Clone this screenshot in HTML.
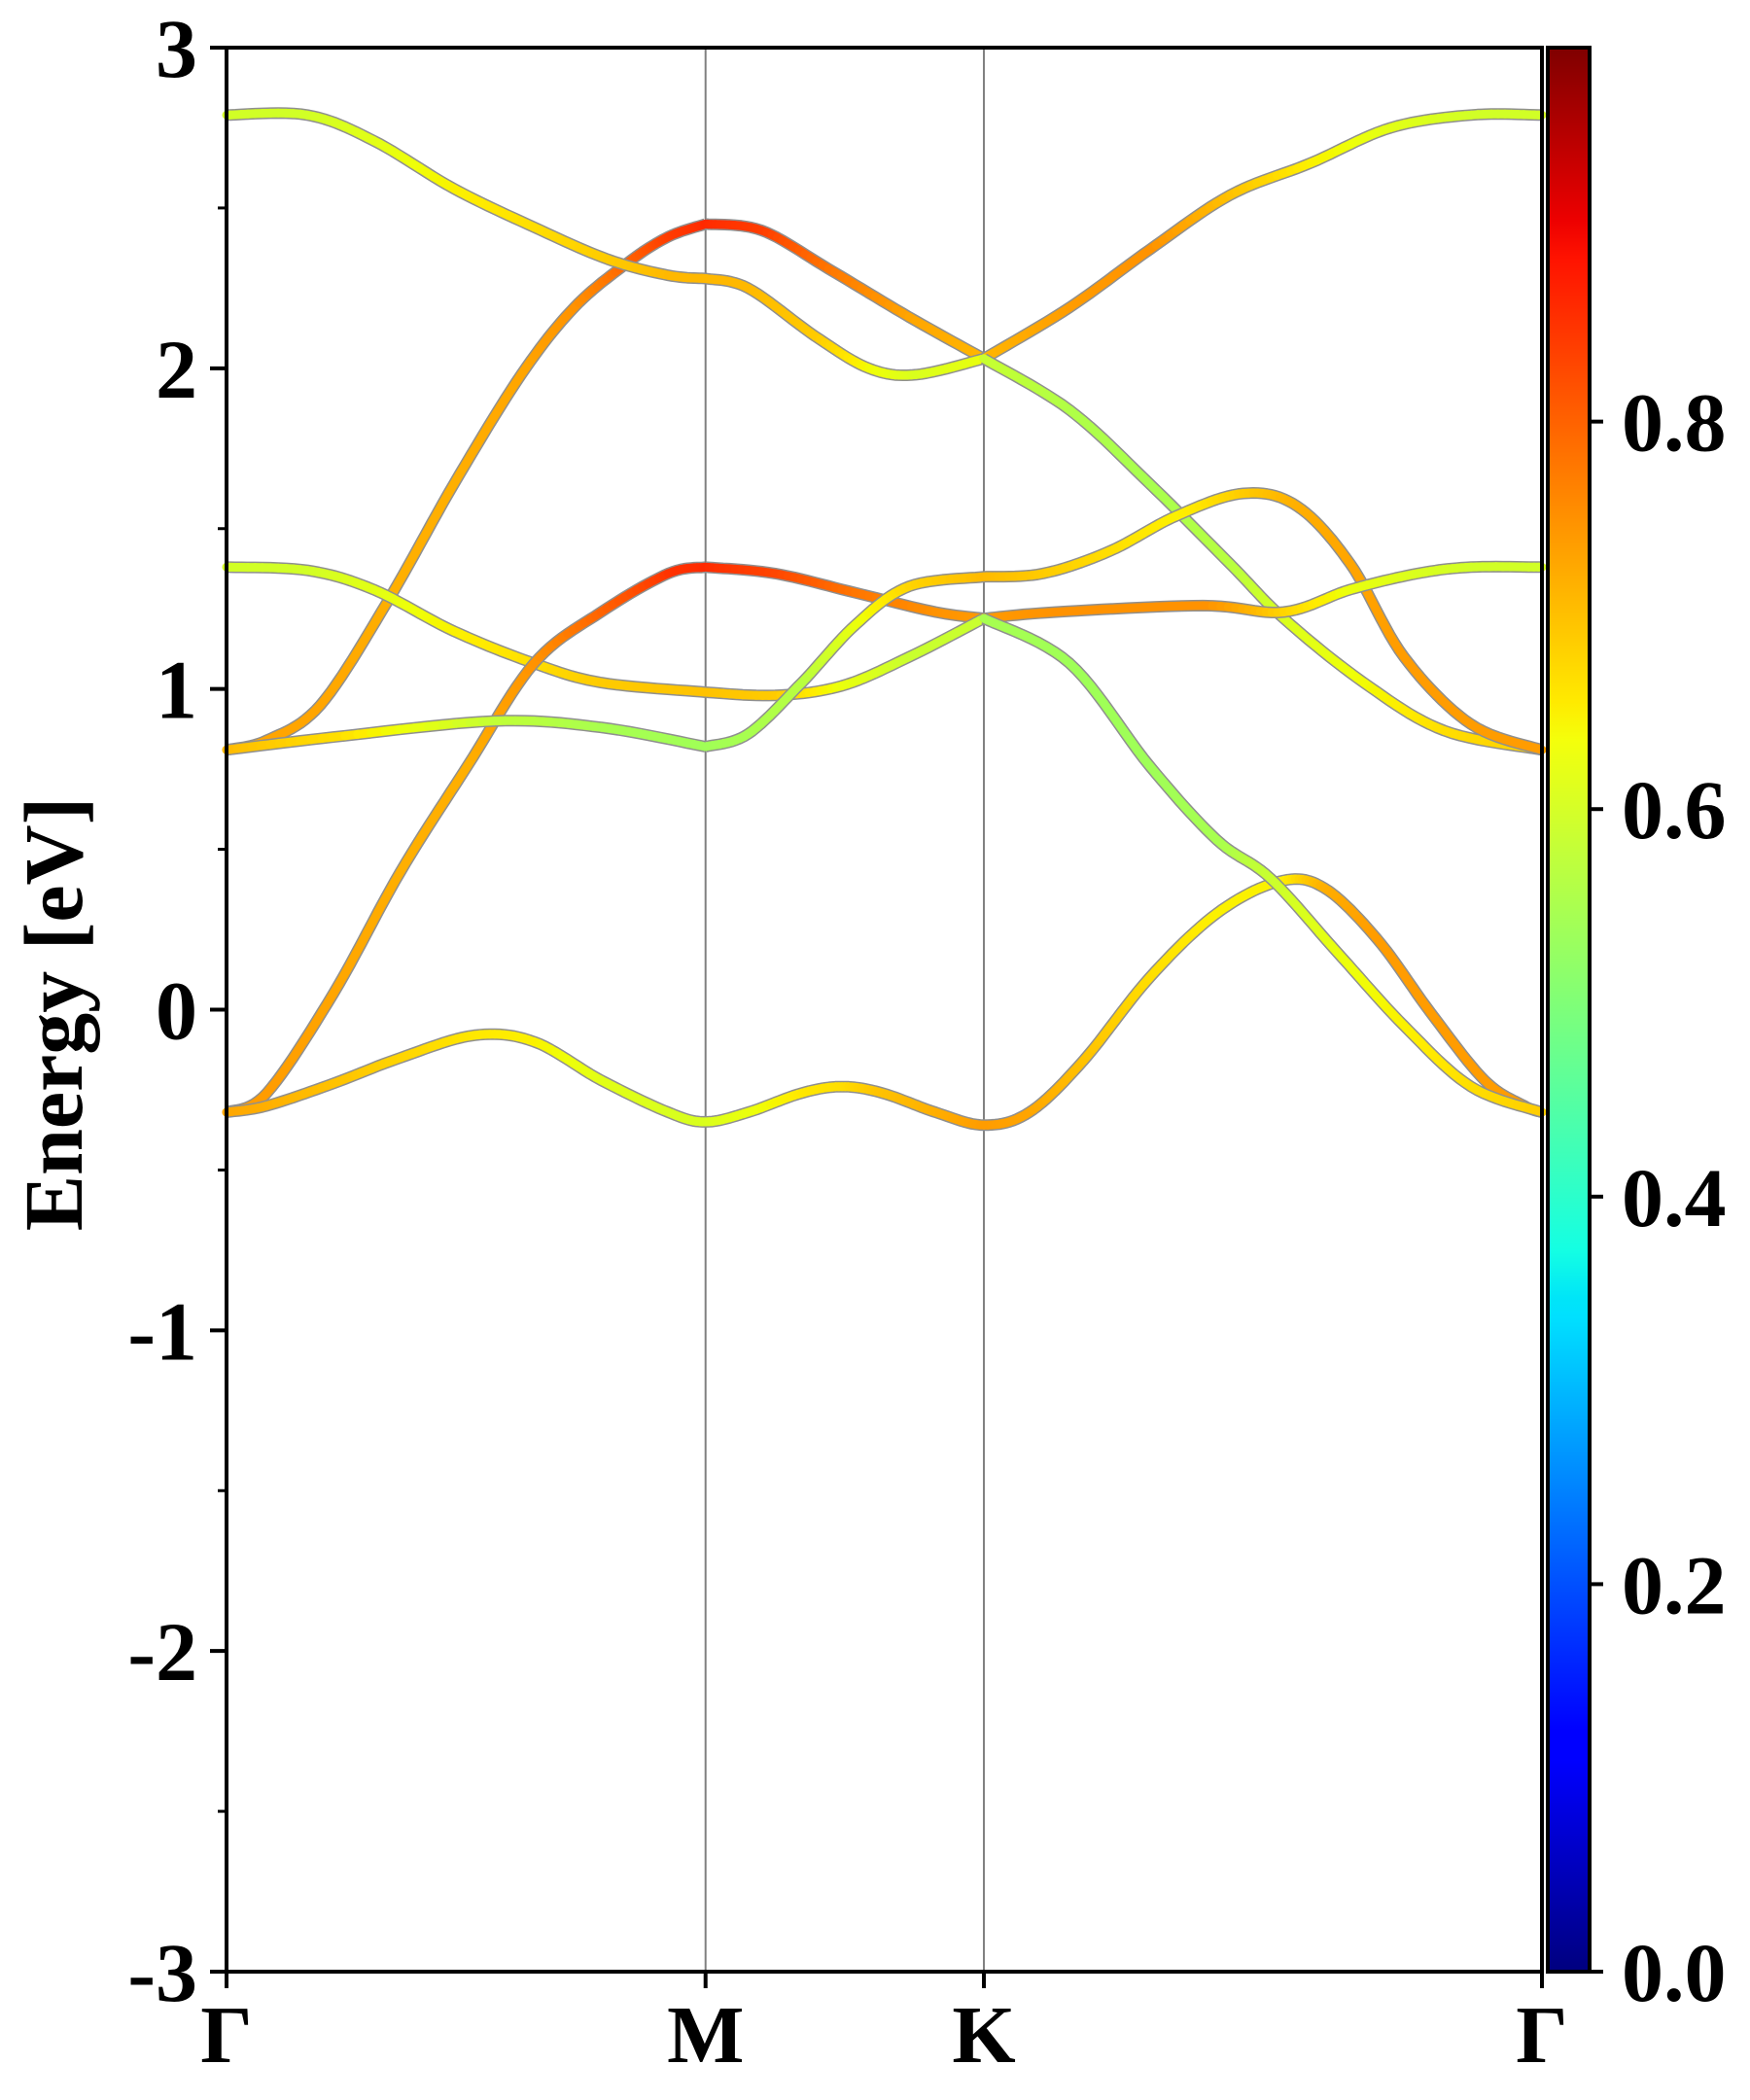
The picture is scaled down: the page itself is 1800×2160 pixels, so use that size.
<!DOCTYPE html>
<html><head><meta charset="utf-8"><style>
html,body{margin:0;padding:0;background:#fff;}
svg{display:block;}
text{font-family:"Liberation Serif","Times New Roman",serif;font-weight:bold;fill:#000;}
</style></head><body>
<svg id="chart" width="1800" height="2160" viewBox="0 0 1800 2160" xmlns="http://www.w3.org/2000/svg">
<defs><linearGradient id="jet" x1="0" y1="1" x2="0" y2="0">
<stop offset="0" stop-color="#00007f"/><stop offset="0.11" stop-color="#0000ff"/><stop offset="0.125" stop-color="#0000ff"/>
<stop offset="0.34" stop-color="#00e0ff"/><stop offset="0.35" stop-color="#00e5f8"/><stop offset="0.375" stop-color="#14ffe3"/>
<stop offset="0.5" stop-color="#7dff7a"/><stop offset="0.64" stop-color="#f4ff0b"/><stop offset="0.66" stop-color="#ffea00"/>
<stop offset="0.89" stop-color="#ff1300"/><stop offset="0.91" stop-color="#ed0000"/><stop offset="1" stop-color="#7f0000"/>
</linearGradient></defs>
<g id="vlines"></g>
<g id="bands"></g>
<g id="axes"></g>
</svg>
<script>
// ---- data ----
const kLabels = ["Γ","M","K","Γ"];
const kPoints = [0, 1.0, 1.581, 2.746];
const yTicks = [-3,-2,-1,0,1,2,3];
const yTickLabels = ["-3","-2","-1","0","1","2","3"];
const cbarTicks = [0.0,0.2,0.4,0.6,0.8];
const cbarTickLabels = ["0.0","0.2","0.4","0.6","0.8"];

const s1K=[0,.084,.196,.335,.475,.615,.726,.838,.922,1.0];
const s1E=[0.81,0.84,0.95,1.27,1.64,1.98,2.19,2.33,2.41,2.45];
const s1C=[0.73,0.73,0.73,0.72,0.72,0.73,0.75,0.8,0.84,0.86];
const s2K=[0,.168,.307,.475,.642,.796,.922,1.0];
const s2E=[2.79,2.79,2.71,2.56,2.44,2.34,2.29,2.28];
const s2C=[0.6,0.6,0.62,0.65,0.67,0.69,0.71,0.71];
const s3K=[0,.168,.307,.475,.642,.782,1.0];
const s3E=[1.38,1.37,1.31,1.18,1.08,1.02,0.99];
const s3C=[0.6,0.6,0.62,0.65,0.67,0.69,0.7];
const s4K=[0,.084,.223,.363,.503,.642,.782,.922,1.0];
const s4E=[-0.32,-0.26,0.05,0.43,0.76,1.08,1.24,1.36,1.38];
const s4C=[0.74,0.74,0.73,0.72,0.72,0.75,0.8,0.85,0.86];
const s5K=[0,.223,.559,.782,1.0];
const s5E=[0.81,0.85,0.90,0.88,0.82];
const s5C=[0.71,0.67,0.58,0.55,0.54];
const aK=[0,.084,.223,.363,.517,.642,.782,.922,1.0,1.089,1.201,1.285,1.369,1.480,1.581,1.676,1.788,1.927,2.067,2.198,2.291,2.402,2.514,2.626,2.709,2.746];
const aE=[-0.32,-0.30,-0.23,-0.15,-0.08,-0.10,-0.22,-0.32,-0.35,-0.32,-0.26,-0.24,-0.26,-0.32,-0.36,-0.32,-0.16,0.10,0.30,0.40,0.38,0.22,-0.01,-0.22,-0.30,-0.32];
const aC=[0.73,0.72,0.7,0.68,0.66,0.65,0.62,0.61,0.61,0.63,0.66,0.67,0.7,0.72,0.74,0.73,0.7,0.67,0.65,0.65,0.72,0.74,0.74,0.74,0.74,0.74];
const t1K=[1.0,1.117,1.257,1.425,1.581];
const t1E=[2.45,2.43,2.31,2.16,2.03];
const t1C=[0.86,0.84,0.78,0.73,0.71];
const t2K=[1.0,1.089,1.229,1.341,1.439,1.581];
const t2E=[2.28,2.25,2.10,2.00,1.98,2.03];
const t2C=[0.71,0.71,0.69,0.64,0.61,0.63];
const t3K=[1.0,1.145,1.313,1.480,1.581];
const t3E=[1.38,1.36,1.30,1.24,1.22];
const t3C=[0.86,0.83,0.78,0.75,0.74];
const t4K=[1.0,1.145,1.285,1.425,1.581];
const t4E=[0.99,0.98,1.01,1.10,1.22];
const t4C=[0.7,0.69,0.63,0.59,0.59];
const t5K=[1.0,1.089,1.201,1.313,1.425,1.581];
const t5E=[0.82,0.86,1.02,1.20,1.32,1.35];
const t5C=[0.54,0.55,0.57,0.63,0.68,0.71];
const u1K=[1.581,1.760,1.927,2.095,2.263,2.430,2.598,2.746];
const u1E=[2.03,2.19,2.37,2.54,2.64,2.75,2.79,2.79];
const u1C=[0.71,0.74,0.75,0.7,0.65,0.62,0.6,0.6];
const u2K=[1.581,1.760,1.927,2.095,2.207,2.374,2.542,2.746];
const u2E=[2.03,1.87,1.64,1.39,1.22,1.02,0.87,0.81];
const u2C=[0.59,0.56,0.55,0.57,0.61,0.64,0.67,0.69];
const u3K=[1.581,1.704,1.844,1.983,2.123,2.235,2.346,2.458,2.598,2.746];
const u3E=[1.35,1.36,1.43,1.54,1.61,1.57,1.39,1.10,0.89,0.81];
const u3C=[0.71,0.69,0.67,0.65,0.69,0.72,0.73,0.74,0.74,0.74];
const u4K=[1.581,1.732,2.039,2.207,2.346,2.486,2.598,2.746];
const u4E=[1.22,1.24,1.26,1.24,1.31,1.36,1.38,1.38];
const u4C=[0.74,0.75,0.75,0.68,0.63,0.61,0.6,0.6];
const u5K=[1.581,1.760,1.927,2.067,2.179,2.318,2.458,2.598,2.746];
const u5E=[1.22,1.08,0.76,0.53,0.41,0.18,-0.05,-0.24,-0.32];
const u5C=[0.55,0.54,0.54,0.55,0.59,0.63,0.65,0.67,0.69];

const curves=[[s1K,s1E,s1C],[s2K,s2E,s2C],[s3K,s3E,s3C],[s4K,s4E,s4C],[s5K,s5E,s5C],[aK,aE,aC],
[t1K,t1E,t1C],[t2K,t2E,t2C],[t3K,t3E,t3C],[t4K,t4E,t4C],[t5K,t5E,t5C],
[u1K,u1E,u1C],[u2K,u2E,u2C],[u3K,u3E,u3C],[u4K,u4E,u4C],[u5K,u5E,u5C]];

// ---- layout ----
const L=233,R=1586,T=49,B=2028;
const kMax=2.746,eMin=-3,eMax=3,cMax=0.993;
const X=k=>L+(k/kMax)*(R-L);
const Y=e=>B-(e-eMin)/(eMax-eMin)*(B-T);
const NS="http://www.w3.org/2000/svg";
function seg(v,pts){for(let i=0;i<pts.length-1;i++){if(v<=pts[i+1][0]){const t=(v-pts[i][0])/(pts[i+1][0]-pts[i][0]);return pts[i][1]+(pts[i+1][1]-pts[i][1])*t;}}return pts[pts.length-1][1];}
function jet(v){v=Math.max(0,Math.min(1,v/cMax));
 const r=seg(v,[[0,0],[0.35,0],[0.66,1],[0.89,1],[1,0.5]]);
 const g=seg(v,[[0,0],[0.125,0],[0.375,1],[0.64,1],[0.91,0],[1,0]]);
 const b=seg(v,[[0,0.5],[0.11,1],[0.34,1],[0.65,0],[1,0]]);
 return `rgb(${Math.round(r*255)},${Math.round(g*255)},${Math.round(b*255)})`;}
function mk(tag,attrs,parent){const e=document.createElementNS(NS,tag);for(const a in attrs)e.setAttribute(a,attrs[a]);parent.appendChild(e);return e;}
function cr(p0,p1,p2,p3,t){const t2=t*t,t3=t2*t;return 0.5*((2*p1)+(-p0+p2)*t+(2*p0-5*p1+4*p2-p3)*t2+(-p0+3*p1-3*p2+p3)*t3);}

const vl=document.getElementById('vlines');
[1,2].forEach(i=>{const l=mk('line',{x1:X(kPoints[i]),x2:X(kPoints[i]),y1:T,y2:B,stroke:'#808080','stroke-width':2},vl);
 
 });

const bands=document.getElementById('bands');
curves.forEach((c,ci)=>{
 const [ks,es,cs]=c;const pts=[];const n=ks.length;
 for(let i=0;i<n-1;i++){const i0=Math.max(0,i-1),i3=Math.min(n-1,i+2);
  for(let s=0;s<12;s++){const t=s/12;
   pts.push([cr(ks[i0],ks[i],ks[i+1],ks[i3],t),cr(es[i0],es[i],es[i+1],es[i3],t),cs[i]+(cs[i+1]-cs[i])*t]);}}
 pts.push([ks[n-1],es[n-1],cs[n-1]]);
 const g=mk('g',{},bands);
 
 
 const d=pts.map((p,i)=>(i?'L':'M')+X(p[0]).toFixed(1)+' '+Y(p[1]).toFixed(1)).join('');
 mk('path',{d:d,fill:'none',stroke:'#8f8f8f','stroke-width':12,'stroke-linecap':'butt','stroke-linejoin':'round'},g);
 for(let i=0;i<pts.length-1;i++){
  mk('line',{x1:X(pts[i][0]).toFixed(1),y1:Y(pts[i][1]).toFixed(1),x2:X(pts[i+1][0]).toFixed(1),y2:Y(pts[i+1][1]).toFixed(1),stroke:jet(pts[i][2]),'stroke-width':9,'stroke-linecap':'round'},g);}
});

const ax=document.getElementById('axes');
const frame=mk('rect',{x:L,y:T,width:R-L,height:B-T,fill:'none',stroke:'#000','stroke-width':4},ax);


yTicks.forEach((v,i)=>{mk('line',{x1:L-17,x2:L,y1:Y(v),y2:Y(v),stroke:'#000','stroke-width':4},ax);
 const t=mk('text',{x:L-30,y:Y(v)+30,'text-anchor':'end','font-size':86,'font-family':'Liberation Serif, serif'},ax);t.textContent=yTickLabels[i];
 
 
 if(i<yTicks.length-1)mk('line',{x1:L-9,x2:L,y1:Y(v+0.5),y2:Y(v+0.5),stroke:'#000','stroke-width':3},ax);});
kPoints.forEach((k,i)=>{mk('line',{x1:X(k),x2:X(k),y1:B,y2:B+17,stroke:'#000','stroke-width':4},ax);
 const t=mk('text',{x:X(k),y:2121,'text-anchor':'middle','font-size':84,'font-family':'Liberation Serif, serif'},ax);t.textContent=kLabels[i];
 
 });
const yl=mk('text',{x:0,y:0,transform:'translate(84,1043) rotate(-90)','text-anchor':'middle','font-size':86,'font-family':'Liberation Serif, serif'},ax);
yl.textContent='Energy [eV]';


const CL=1592,CR=1635;
const cb=mk('rect',{x:CL,y:T,width:CR-CL,height:B-T,fill:'url(#jet)',stroke:'#000','stroke-width':4},ax);


const CY=v=>B-(v/cMax)*(B-T);
cbarTicks.forEach((v,i)=>{mk('line',{x1:CR,x2:CR+14,y1:CY(v),y2:CY(v),stroke:'#000','stroke-width':4},ax);
 const t=mk('text',{x:1668,y:CY(v)+30,'font-size':86,'font-family':'Liberation Serif, serif'},ax);t.textContent=cbarTickLabels[i];
 
 });
</script>
</body></html>
